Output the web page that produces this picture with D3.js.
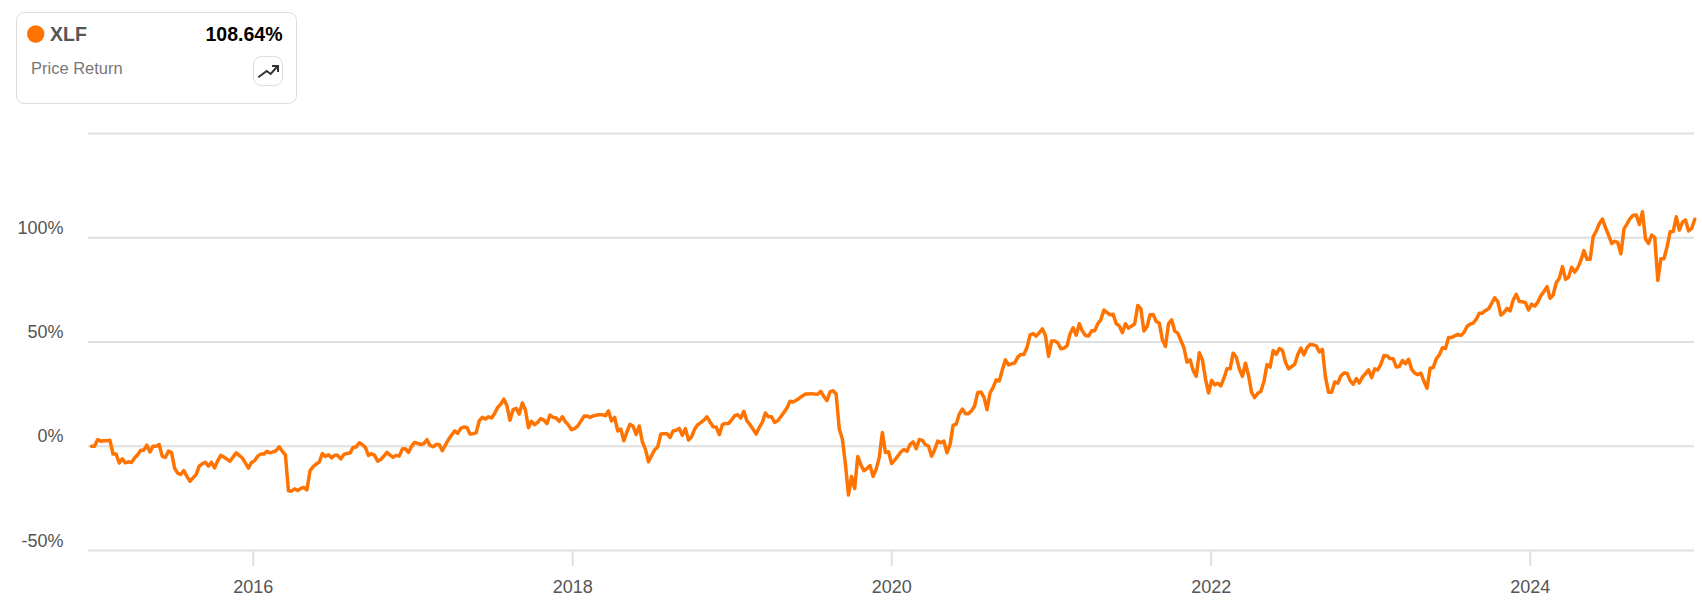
<!DOCTYPE html>
<html><head><meta charset="utf-8">
<script src="https://cdn.jsdelivr.net/npm/d3@7/dist/d3.min.js"></script>
<style>
html,body{margin:0;padding:0;background:#fff;overflow:hidden}
text{font-family:"Liberation Sans",Arial,sans-serif}
.domain{display:none}
</style></head><body>
<svg id="c" width="1702" height="604"></svg>
<script>
const seriesName = "XLF";
const seriesReturn = "108.64%";
const seriesCaption = "Price Return";
const firstSample = "2014-12-28";
const sampleHours = 169;
const xTickYears = [2016, 2018, 2020, 2022, 2024];
const yTicks = [-50, 0, 50, 100, 150];
const yTickLabels = ["-50%", "0%", "50%", "100%", ""];
const weeklyReturn = [
-0.2,-0.2,3.0,2.2,2.4,2.4,2.6,-4.0,-4.0,-8.3,-6.3,-8.2,-7.7,-8.0,-5.9,-4.3,-2.2,-2.1,0.3,-3.0,-0.2,-0.2,0.6,-5.1,-5.6,-2.6,-3.2,-10.7,-13.1,-13.8,
-11.9,-14.7,-17.0,-15.4,-13.8,-9.8,-8.7,-7.9,-9.8,-7.9,-10.6,-7.2,-4.6,-5.4,-6.4,-7.4,-5.4,-3.4,-4.6,-5.9,-8.2,-10.7,-8.0,-7.2,-5.0,-4.0,-4.0,-2.7,-3.4,-2.9,
-2.4,-0.5,-2.7,-4.3,-21.6,-21.8,-20.7,-21.5,-20.5,-20.0,-21.2,-12.0,-10.1,-8.8,-7.9,-3.7,-5.1,-4.3,-5.8,-4.6,-4.6,-6.3,-4.2,-3.7,-3.5,-0.8,-0.6,1.4,0.6,-0.8,
-4.6,-3.8,-4.6,-7.4,-6.6,-5.0,-3.2,-4.5,-5.6,-4.6,-5.0,-1.6,-1.4,-3.2,-0.3,1.6,1.1,0.6,1.0,2.9,0.2,-0.5,0.6,0.6,-2.4,0.3,3.0,5.1,7.1,5.9,
8.3,9.0,8.8,5.6,5.8,6.2,12.0,13.6,12.8,13.9,13.3,15.5,18.4,19.9,22.4,19.2,12.2,17.3,17.9,15.2,20.5,17.3,8.7,11.7,10.1,11.2,13.0,12.3,10.7,14.7,
13.6,13.3,11.7,13.9,11.5,9.9,7.7,8.2,9.5,11.7,14.1,14.3,13.6,14.3,14.6,14.9,14.9,14.4,16.7,11.9,13.6,7.1,8.0,2.4,6.7,10.3,9.3,5.4,9.5,1.9,
-1.6,-7.7,-4.8,-1.9,-0.6,5.6,5.8,5.8,4.0,7.1,7.4,8.3,5.0,8.2,2.7,4.3,8.0,10.1,11.1,12.3,13.9,11.4,9.1,9.0,5.3,10.1,10.7,10.7,12.3,14.4,
14.9,13.3,16.5,11.9,10.1,7.9,5.6,8.8,11.2,15.7,13.9,13.9,11.2,12.0,13.9,16.0,18.1,21.3,21.0,21.8,22.8,23.9,24.8,24.8,25.0,24.8,24.7,26.1,23.6,21.6,
25.8,26.4,24.7,8.0,3.2,-8.8,-23.6,-14.7,-20.5,-5.1,-9.1,-12.0,-10.9,-9.5,-14.7,-11.2,-5.6,6.4,-3.2,-2.9,-8.5,-6.9,-5.0,-3.0,-1.8,-2.7,0.6,1.9,-1.4,3.0,
2.6,0.5,-0.2,-5.0,-1.9,2.2,1.4,2.2,-3.4,0.6,9.9,10.3,15.2,17.6,15.4,15.4,16.8,19.2,25.6,25.8,23.4,17.3,25.3,28.0,31.6,31.1,36.4,41.2,38.8,39.3,
39.7,42.5,43.8,43.8,47.1,53.2,53.8,52.6,54.2,56.1,52.9,42.9,50.2,50.2,49.4,46.5,46.8,47.9,53.7,56.6,53.0,58.5,55.0,52.9,52.6,55.1,55.1,58.5,60.4,65.1,
63.9,62.8,63.1,58.5,57.5,54.2,58.5,56.4,57.4,58.5,67.3,65.7,55.1,57.1,62.8,63.0,59.6,58.8,50.8,47.6,58.5,60.4,55.0,54.0,50.5,47.0,40.1,41.2,36.1,33.3,
44.6,41.3,32.1,25.3,31.3,29.2,30.0,28.7,32.4,36.9,36.9,44.4,42.5,36.9,33.3,39.6,33.7,25.6,23.1,25.2,26.0,30.8,38.9,37.7,45.7,43.8,46.6,45.8,40.1,36.9,
38.0,39.1,43.8,46.8,43.6,47.0,48.6,48.4,47.9,45.0,46.2,32.9,25.6,25.6,30.6,30.0,33.5,34.9,34.8,31.2,29.5,32.2,30.1,33.0,34.6,36.4,32.7,36.9,36.4,39.1,
43.3,43.1,41.8,41.7,37.8,38.0,40.9,39.3,41.5,36.7,34.8,34.1,34.8,30.9,27.6,37.2,37.5,41.7,43.6,47.0,46.6,51.9,51.9,52.7,53.4,52.9,54.3,57.2,58.3,58.8,
60.7,63.6,63.6,64.9,65.7,68.3,71.0,69.1,62.7,63.9,65.9,64.7,69.9,72.6,69.2,69.1,68.6,65.1,67.9,67.0,68.9,72.0,74.0,76.3,70.7,72.4,78.2,80.4,85.9,79.8,
80.8,85.6,83.3,85.4,88.9,93.6,89.4,89.4,100.3,103.0,106.6,108.7,104.6,101.0,97.0,98.1,97.4,92.1,104.0,106.4,109.0,110.6,110.7,106.1,112.2,99.2,97.0,101.0,99.8,79.3,
89.7,89.7,95.4,102.6,102.7,109.8,103.4,107.2,108.3,103.0,104.2,108.64
];

const svg = d3.select("#c");
const L = 88, R = 1694, T = 133, B = 550;
const start = new Date(firstSample + "T00:00:00Z");
const dates = weeklyReturn.map((_, i) => d3.utcHour.offset(start, i * sampleHours));
const x = d3.scaleUtc().domain([new Date("2014-12-20T00:00:00Z"), new Date("2025-01-11T00:00:00Z")]).range([L, R]);
const y = d3.scaleLinear().domain([-50, 150]).range([B, T]);

// y axis + gridlines
const gy = svg.append("g").attr("transform", `translate(${L},0)`)
  .call(d3.axisLeft(y).tickValues(yTicks).tickSize(-(R - L)).tickFormat((d, i) => yTickLabels[i]));
gy.selectAll(".tick line").attr("stroke", "#e0e0e0").attr("stroke-width", 2);
gy.selectAll(".tick text").attr("x", -24.5).attr("y", -4).attr("dy", 0).attr("fill", "#555").style("font-size", "18px");

// x axis
const gx = svg.append("g").attr("transform", `translate(0,${B})`)
  .call(d3.axisBottom(x).tickValues(xTickYears.map(v => new Date(Date.UTC(v, 0, 1)))).tickSize(16).tickFormat(d3.utcFormat("%Y")));
gx.selectAll(".tick line").attr("stroke", "#e0e0e0").attr("stroke-width", 2);
gx.selectAll(".tick text").attr("y", 43).attr("dy", 0).attr("fill", "#555").style("font-size", "18px");

// series
const line = d3.line().x((d, i) => x(dates[i])).y(d => y(d));
svg.append("path").datum(weeklyReturn).attr("d", line).attr("fill", "none")
  .attr("stroke", "#ff7300").attr("stroke-width", 3.5).attr("stroke-linejoin", "round").attr("stroke-linecap", "round");

// legend card
const card = svg.append("g");
card.append("rect").attr("x", 16.5).attr("y", 12.5).attr("width", 280).attr("height", 91).attr("rx", 8)
  .attr("fill", "#fff").attr("stroke", "#dcdcdc");
card.append("circle").attr("cx", 35.7).attr("cy", 34).attr("r", 8.7).attr("fill", "#ff7300");
card.append("text").attr("x", 50).attr("y", 41).attr("fill", "#555").style("font-size", "19.5px").style("font-weight", "700").text(seriesName);
card.append("text").attr("x", 282.5).attr("y", 41).attr("text-anchor", "end").attr("fill", "#000").style("font-size", "19.5px").style("font-weight", "700").text(seriesReturn);
card.append("text").attr("x", 31).attr("y", 74).attr("fill", "#777").style("font-size", "16.5px").text(seriesCaption);
card.append("rect").attr("x", 253.5).attr("y", 56.5).attr("width", 29).attr("height", 29).attr("rx", 8).attr("fill", "#fff").attr("stroke", "#dcdcdc");
card.append("path").attr("d", "M258.3 77.3 L266.7 71 L270.7 74 L277.7 66 M272 66 L278 66 L278 72").attr("fill", "none").attr("stroke", "#333").attr("stroke-width", 2);
</script>
</body></html>
